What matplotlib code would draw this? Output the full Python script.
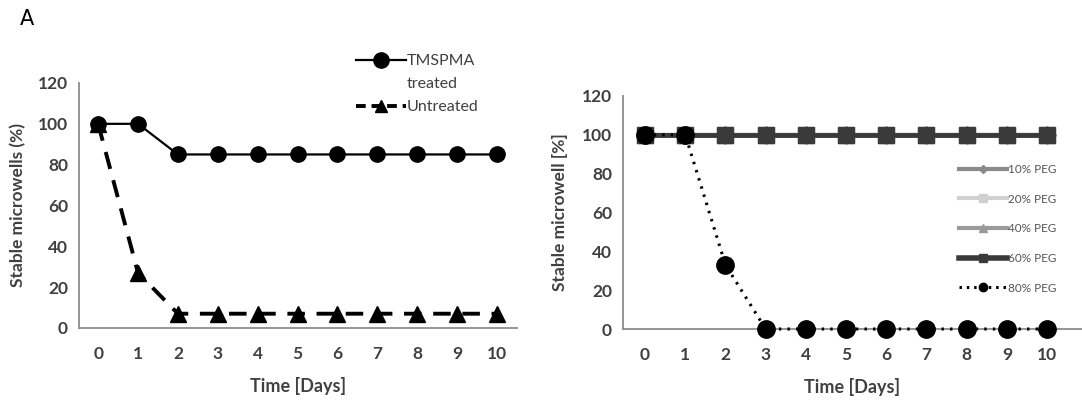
import matplotlib
matplotlib.use("Agg")
import matplotlib.pyplot as plt
from matplotlib.lines import Line2D

days = list(range(11))
tmspma = [100, 100, 85, 85, 85, 85, 85, 85, 85, 85, 85]
untreated = [100, 27, 7, 7, 7, 7, 7, 7, 7, 7, 7]

peg10 = [100] * 11
peg20 = [100] * 11
peg40 = [100] * 11
peg60 = [100] * 11
peg80 = [100, 100, 33, 0, 0, 0, 0, 0, 0, 0, 0]

yticks = [0, 20, 40, 60, 80, 100, 120]

plt.rcParams['font.family'] = ['Lato', 'DejaVu Sans']
plt.rcParams['font.weight'] = 'bold'

W, H = 1082, 400
fig = plt.figure(figsize=(W / 100, H / 100), dpi=100)
fig.patch.set_facecolor('white')

spine_c = '#8c8c8c'
tick_c = '#404040'


def style(ax):
    for s in ['top', 'right']:
        ax.spines[s].set_visible(False)
    for s in ['left', 'bottom']:
        ax.spines[s].set_color(spine_c)
        ax.spines[s].set_linewidth(1.3)
    ax.set_yticks(yticks)
    ax.set_xticks(days)
    ax.tick_params(axis='both', colors=spine_c, labelcolor=tick_c, labelsize=12.5, length=0)
    ax.tick_params(axis='y', pad=8)
    ax.tick_params(axis='x', pad=13)
    ax.set_ylim(0, 120)


# Left panel
axL = fig.add_axes([79 / W, 1 - 328 / H, (517 - 79) / W, (328 - 83) / H])
axL.set_xlim(-0.48, 10.5)
style(axL)
axL.plot(days, untreated, color='black', lw=2.8, ls=(0, (4.5, 3)), marker='^', ms=11,
         clip_on=False, zorder=3)
axL.plot(days, tmspma, color='black', lw=1.6, marker='o', ms=11, clip_on=False, zorder=4)
axL.set_ylabel('Stable microwells (%)', fontsize=12.5, fontweight='bold', color=tick_c, labelpad=8)
axL.set_xlabel('Time [Days]', fontsize=13, fontweight='bold', color=tick_c, labelpad=11)

hL = [Line2D([], [], color='black', lw=1.6, marker='o', ms=11),
      Line2D([], [], color='none', lw=0),
      Line2D([], [], color='black', lw=2.8, ls=(0, (2.5, 1.5)), marker='^', ms=9)]
legL = axL.legend(hL, ['TMSPMA', 'treated', 'Untreated'], loc='upper left',
                  bbox_to_anchor=(348 / W, 1 - 46 / H), bbox_transform=fig.transFigure,
                  frameon=False, prop={'size': 11.5, 'weight': 'normal'},
                  handlelength=3.1, handletextpad=0.1,
                  labelspacing=0.55, borderpad=0)
for t in legL.get_texts():
    t.set_color('#404040')

fig.text(20 / W, 1 - 19 / H, 'A', fontsize=15, va='center', ha='left', color='black',
         family=['DejaVu Sans'], fontweight='normal')

# Right panel
axR = fig.add_axes([623 / W, 1 - 329 / H, (1082 - 623) / W, (329 - 96) / H])
axR.set_xlim(-0.55, 10.87)
style(axR)
axR.plot(days, peg10, color='#8a8a8a', lw=3, marker='D', ms=9, clip_on=False, label='10% PEG')
axR.plot(days, peg20, color='#c8c8c8', lw=3, marker='s', ms=11, clip_on=False, label='20% PEG')
axR.plot(days, peg40, color='#9a9a9a', lw=3, marker='^', ms=12, clip_on=False, label='40% PEG')
axR.plot(days, peg60, color='#3a3a3a', lw=3.5, marker='s', ms=11, clip_on=False, label='60% PEG')
axR.plot(days, peg80, color='black', lw=2.2, ls=(0, (0.8, 2.0)), marker='o', ms=12.5,
         clip_on=False, zorder=5, label='80% PEG')
axR.set_ylabel('Stable microwell [%]', fontsize=12.5, fontweight='bold', color=tick_c, labelpad=10)
axR.set_xlabel('Time [Days]', fontsize=13, fontweight='bold', color=tick_c, labelpad=11)

hR = [Line2D([], [], color='#8a8a8a', lw=3, marker='D', ms=4),
      Line2D([], [], color='#d0d0d0', lw=3, marker='s', ms=6),
      Line2D([], [], color='#9a9a9a', lw=3, marker='^', ms=6),
      Line2D([], [], color='#3a3a3a', lw=4, marker='s', ms=6),
      Line2D([], [], color='black', lw=2.2, ls=(0, (0.8, 1.6)), marker='o', ms=6)]
legR = axR.legend(hR, ['10% PEG', '20% PEG', '40% PEG', '60% PEG', '80% PEG'],
                  loc='upper left', bbox_to_anchor=(953 / W, 1 - 158 / H),
                  bbox_transform=fig.transFigure, frameon=False,
                  prop={'size': 8.5, 'weight': 'normal'},
                  handlelength=4.1, handletextpad=0.05, labelspacing=1.58, borderpad=0)
for t in legR.get_texts():
    t.set_color('#555555')

fig.savefig('out.png', dpi=100, facecolor='white')
